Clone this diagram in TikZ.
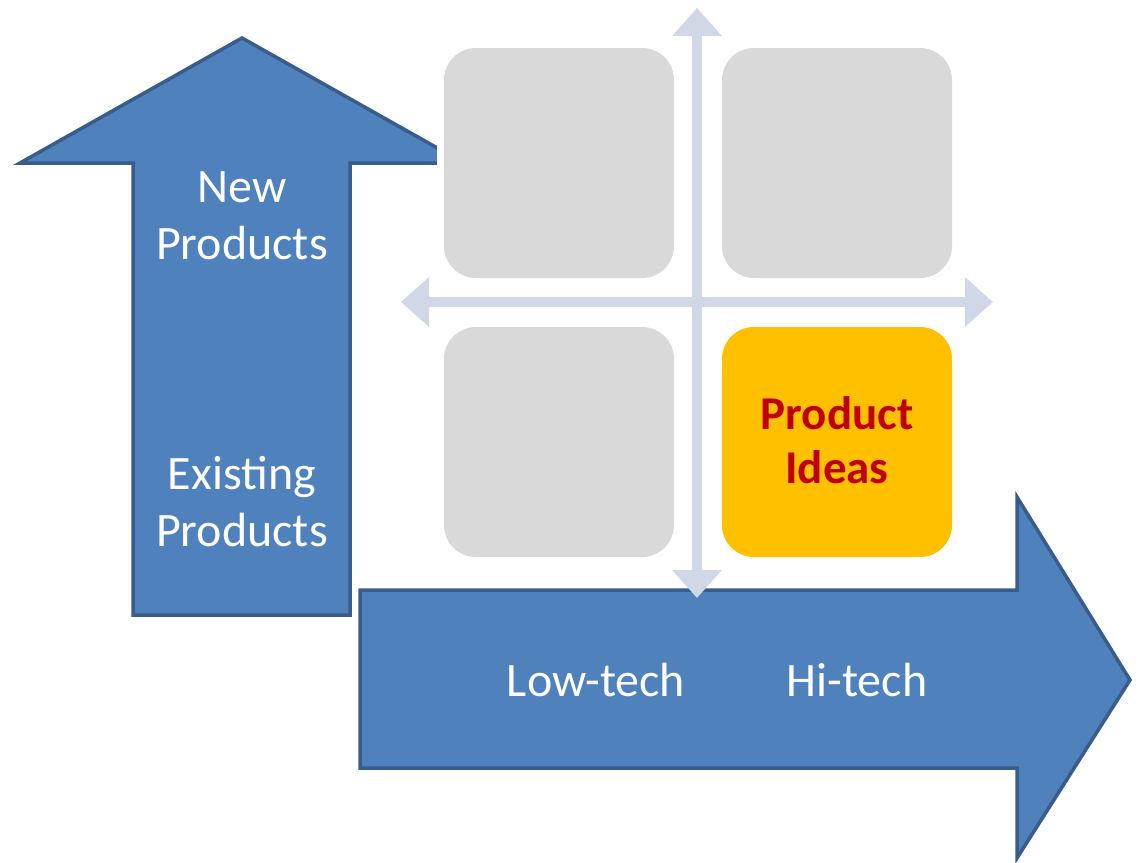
\documentclass[tikz,border=0pt]{standalone}
\usepackage{fontspec}
\setmainfont{Carlito}
\usetikzlibrary{arrows.meta,positioning}
\tikzset{
    block arrow/.style={fill={rgb,255:red,79;green,129;blue,189},draw={rgb,255:red,56;green,93;blue,138},line width=3.5pt,line join=miter},
    quadrant/.style={fill={rgb,255:red,217;green,217;blue,217},rounded corners=32pt},
    hot quadrant/.style={fill={rgb,255:red,255;green,192;blue,0},rounded corners=32pt},
    axis arr/.style={draw={rgb,255:red,208;green,216;blue,232},line width=10pt,-{Triangle[length=28pt,width=44pt]}},
    axis twoway/.style={axis arr,{Triangle[length=28pt,width=48pt]}-{Triangle[length=28pt,width=48pt]}},
    arrow label/.style={text=white,align=center,font=\fontsize{48}{57}\selectfont},
    idea label/.style={text={rgb,255:red,192;green,0;blue,0},align=center,font=\fontsize{47}{54}\selectfont\bfseries},
}

\begin{document}
\begin{tikzpicture}[x=1pt,y=-1pt]
        \useasboundingbox (0,0) rectangle (1140,862);

        % the two big arrows
        \draw[block arrow] (133,615) -- (133,163) -- (20,163) -- (242,38)
        -- (464,163) -- (350,163) -- (350,615) -- cycle;
        \draw[block arrow] (360,590) -- (1017,590) -- (1017,497) -- (1130,680)
        -- (1017,858) -- (1017,768) -- (360,768) -- cycle;

        % matrix area
        \fill[white] (437,0) rectangle (1000,586);
        \coordinate (top) at (697,8);
        \coordinate (bottom) at (697,598);
        \coordinate (left) at (401,302);
        \coordinate (right) at (993,302);
        \draw[axis twoway] (bottom) -- (top);
        \draw[axis twoway] (left) -- (right);

        \fill[quadrant] (444,48) rectangle (674,278);
        \fill[quadrant] (722,48) rectangle (952,278);
        \fill[quadrant] (444,327) rectangle (674,557);
        \fill[hot quadrant] (722,327) rectangle (952,557);

        \node[idea label] (ideas) at (837,440) {Product\\Ideas};

        \node[arrow label] (new) at (242,216) {New\\Products};
        \node[arrow label] (existing) at (242,502) {Existing\\Products};
        \node[arrow label] (lowtech) at (596,680) {Low-tech};
        \node[arrow label] (hitech) at (857,680) {Hi-tech};
    \end{tikzpicture}
\end{document}
